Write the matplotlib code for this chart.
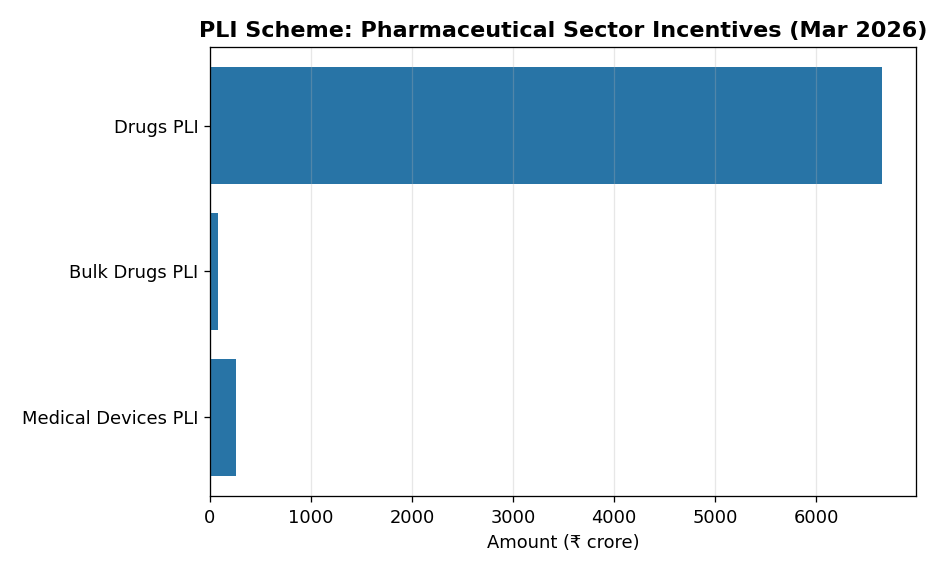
import matplotlib
matplotlib.use('Agg')
import matplotlib.pyplot as plt

schemes = ['Drugs PLI', 'Bulk Drugs PLI', 'Medical Devices PLI']
amounts = [6654, 80, 256]

fig, ax = plt.subplots(figsize=(8.0, 572 / 117), dpi=117)

ax.barh(schemes, amounts, color='#2874A6', height=0.8)
ax.invert_yaxis()
ax.grid(axis='x', color='#b0b0b0', alpha=0.3)

ax.set_xlabel('Amount (₹ crore)', fontsize=11)
ax.set_title('PLI Scheme: Pharmaceutical Sector Incentives (Mar 2026)', fontsize=13.7, fontweight='bold')
ax.tick_params(labelsize=11)
ax.tick_params(axis='x', pad=4.6)

plt.subplots_adjust(left=210 / 936, right=916 / 936, top=1 - 47 / 572, bottom=1 - 496 / 572)
plt.savefig('out.png', dpi=117)
